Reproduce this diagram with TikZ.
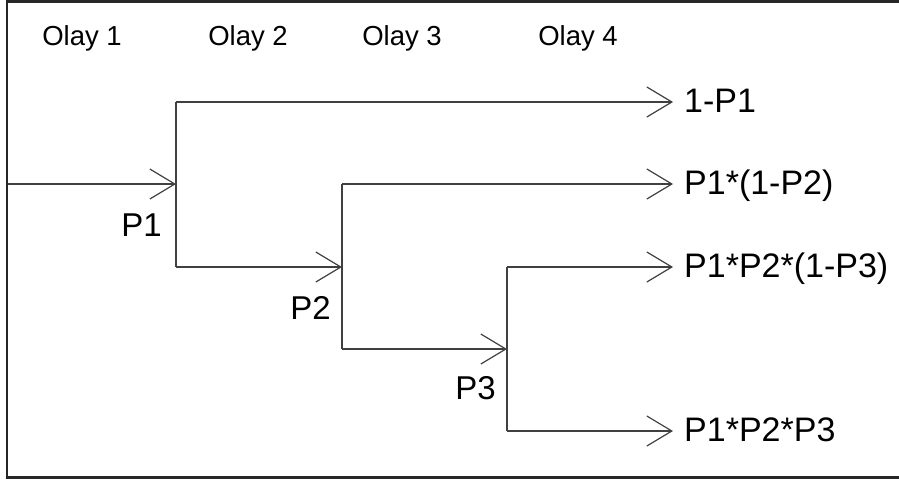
\documentclass[tikz,border=0pt]{standalone}
\usepackage{fontspec}
\setmainfont{Liberation Sans}
\usetikzlibrary{arrows.meta}
\definecolor{linegray}{HTML}{404040}
\begin{document}
\begin{tikzpicture}[x=1pt,y=-1pt,
  conn/.style={draw=linegray,line width=1.3pt},
  arr/.style={conn,-{Straight Barb[length=25pt,width=30pt,line width=1.2pt]}},
  stage/.style={font=\fontsize{27.5}{32}\selectfont,anchor=base,inner sep=0pt},
  outlbl/.style={font=\fontsize{34}{40}\selectfont,anchor=base west,inner sep=0pt},
  plbl/.style={font=\fontsize{33}{39}\selectfont,anchor=base east,inner sep=0pt}]
\useasboundingbox (0,0) rectangle (899,479);
% frame (left, top, bottom)
\draw[line width=2.2pt,color=black!85] (905,1.5) -- (7,1.5) -- (7,477.5) -- (905,477.5);
% stage headers
\node[stage] (o1) at (82,45) {Olay 1};
\node[stage] (o2) at (248,45) {Olay 2};
\node[stage] (o3) at (402,45) {Olay 3};
\node[stage] (o4) at (578,45) {Olay 4};
% junction coordinates
\coordinate (in) at (8,184);
\coordinate (j1) at (176,184);
\coordinate (j1t) at (176,102);
\coordinate (j1b) at (176,267);
\coordinate (j2) at (342,267);
\coordinate (j2t) at (342,184);
\coordinate (j2b) at (342,349);
\coordinate (j3) at (507,349);
\coordinate (j3t) at (507,267);
\coordinate (j3b) at (507,431);
\coordinate (e1) at (673,102);
\coordinate (e2) at (673,184);
\coordinate (e3) at (673,267);
\coordinate (e4) at (673,431);
% outputs
\node[outlbl] (r1) at (684,112) {1-P1};
\node[outlbl] (r2) at (684,194) {P1*(1-P2)};
\node[outlbl] (r3) at (684,277) {P1*P2*(1-P3)};
\node[outlbl] (r4) at (684,441) {P1*P2*P3};
% probability labels
\node[plbl] (p1) at (162,236) {P1};
\node[plbl] (p2) at (331,319) {P2};
\node[plbl] (p3) at (496,399) {P3};
% connectors
\draw[arr] (in) -- (j1);
\draw[conn] (j1t) -- (j1b);
\draw[arr] (j1t) -- (e1);
\draw[arr] (j1b) -- (j2);
\draw[conn] (j2t) -- (j2b);
\draw[arr] (j2t) -- (e2);
\draw[arr] (j2b) -- (j3);
\draw[conn] (j3t) -- (j3b);
\draw[arr] (j3t) -- (e3);
\draw[arr] (j3b) -- (e4);
\end{tikzpicture}
\end{document}
